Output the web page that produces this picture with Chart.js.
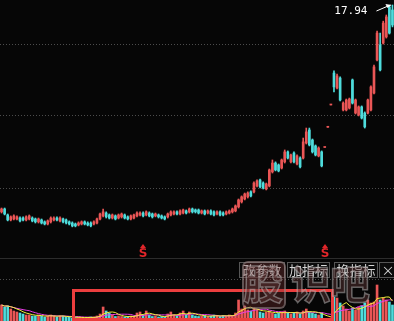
<!DOCTYPE html>
<html>
<head>
<meta charset="utf-8">
<script src="https://cdn.jsdelivr.net/npm/chart.js@4.4.1/dist/chart.umd.min.js"></script>
<style>
html, body { margin: 0; padding: 0; background: #060606; width: 394px; height: 321px; overflow: hidden; }
#wrap { position: relative; width: 394px; height: 321px; }
canvas { position: absolute; left: 0; }
#priceChart { top: 0; }
#volChart { top: 279px; }
.sep { position: absolute; left: 0; top: 258px; width: 394px; height: 1px; background: #2c2c2c; }
.btn { position: absolute; top: 262px; height: 14px; box-sizing: content-box; border: 1px solid #565656; background: #0b0b0b;
       color: #d6d6d6; font: 13px "Noto Sans CJK SC", sans-serif; line-height: 14px; text-align: center; }
.box { position: absolute; left: 72px; top: 289px; width: 262px; height: 32px; box-sizing: border-box; border: 3px solid #ec3e3e; }
.wm { position: absolute; font: bold 40px "Noto Sans CJK SC", sans-serif; line-height: 40px;
      color: rgba(95, 55, 55, 0.45); -webkit-text-stroke: 1.5px rgba(185, 185, 185, 0.5); pointer-events: none; }
.wmbox { position: absolute; left: 242px; top: 261px; width: 40px; height: 44px; border: 2px solid rgba(160, 160, 160, 0.45);
         border-radius: 6px; background: rgba(120, 50, 50, 0.35); }
</style>
</head>
<body>
<div id="wrap">
  <canvas id="priceChart" width="394" height="258"></canvas>
  <div class="sep"></div>
  <canvas id="volChart" width="394" height="42"></canvas>
  <div class="box"></div>
  <div class="btn" style="left:239px;width:44px;">改参数</div>
  <div class="btn" style="left:287px;width:41px;">加指标</div>
  <div class="btn" style="left:334px;width:42px;">换指标</div>
  <div class="btn" style="left:379px;width:16px;">×</div>
  <div class="wmbox"></div>
  <div class="wm" style="left:243px;top:262px;">股</div>
  <div class="wm" style="left:291px;top:262px;">识</div>
  <div class="wm" style="left:330px;top:262px;">吧</div>
</div>
<script>
// daily OHLC
const opens = [7.18,7.33,7.02,6.76,6.81,6.81,6.86,6.86,6.76,6.81,
  6.86,6.81,6.66,6.76,6.66,6.55,6.66,6.76,6.86,6.71,
  6.81,6.76,6.66,6.60,6.55,6.50,6.55,6.66,6.60,6.60,
  6.55,6.60,6.81,6.97,7.12,7.02,6.86,6.97,6.86,6.92,
  7.02,6.92,6.81,6.86,6.97,7.02,7.12,7.02,7.12,7.07,
  6.97,7.02,6.97,6.92,6.92,7.02,7.07,7.18,7.07,7.12,
  7.23,7.18,7.33,7.28,7.28,7.12,7.23,7.12,7.23,7.18,
  7.07,7.18,7.12,7.07,7.12,7.18,7.23,7.44,7.70,7.85,
  7.96,8.22,8.22,8.53,8.84,8.68,8.37,8.53,9.26,9.72,
  9.62,9.46,9.78,10.30,9.78,10.24,9.67,9.98,9.98,10.76,
  11.44,10.92,10.61,10.09,10.30,10.53,11.58,12.74,14.40,13.62,
  14.14,12.48,12.48,12.58,14.04,12.32,12.22,12.64,12.32,12.32,
  12.48,13.36,15.08,15.86,15.96,16.28,17.84,17.68];
const closes = [7.33,7.07,6.76,6.92,6.97,6.92,6.71,6.76,6.92,6.97,
  6.71,6.66,6.81,6.60,6.55,6.71,6.86,6.86,6.76,6.86,
  6.66,6.60,6.55,6.45,6.45,6.60,6.66,6.55,6.50,6.45,
  6.66,6.81,7.07,7.18,6.92,6.86,7.02,6.81,7.02,7.07,
  6.86,6.81,6.97,7.02,7.12,7.12,6.97,7.18,6.97,6.92,
  7.07,6.92,6.86,6.81,7.07,7.18,7.18,7.07,7.23,7.28,
  7.12,7.33,7.18,7.18,7.12,7.23,7.07,7.23,7.07,7.02,
  7.18,7.02,7.02,7.18,7.23,7.33,7.49,7.80,7.96,8.11,
  8.16,8.01,8.68,8.79,8.48,8.42,8.63,9.36,9.72,9.36,
  9.31,9.88,10.30,9.98,10.14,9.78,10.09,9.52,10.82,11.34,
  10.66,10.30,10.14,10.50,9.57,10.53,11.58,12.74,13.68,14.25,
  13.00,12.84,13.00,13.05,12.84,13.00,12.64,12.06,11.60,13.00,
  13.68,14.72,16.48,14.56,17.00,17.32,16.48,16.90];
const highs = [7.38,7.38,7.07,6.97,7.02,6.97,6.92,6.92,6.97,7.02,
  6.92,6.86,6.86,6.81,6.71,6.76,6.92,6.92,6.92,6.92,
  6.86,6.81,6.71,6.66,6.60,6.66,6.71,6.71,6.66,6.66,
  6.71,6.86,7.12,7.33,7.18,7.07,7.07,7.02,7.07,7.12,
  7.07,6.97,7.02,7.07,7.18,7.18,7.18,7.23,7.18,7.12,
  7.12,7.07,7.02,6.97,7.12,7.23,7.23,7.23,7.28,7.33,
  7.28,7.38,7.38,7.33,7.33,7.28,7.28,7.28,7.28,7.23,
  7.23,7.23,7.18,7.23,7.28,7.38,7.54,7.85,8.01,8.16,
  8.22,8.27,8.74,8.84,8.89,8.74,8.68,9.41,9.88,9.78,
  9.67,9.93,10.40,10.35,10.19,10.30,10.14,10.04,11.02,11.54,
  11.54,10.97,10.66,10.56,10.35,10.53,11.58,12.74,14.51,14.35,
  14.20,12.90,13.05,13.10,14.09,13.05,12.69,12.69,12.38,13.05,
  13.73,14.82,16.58,16.48,17.10,17.42,17.89,17.94];
const lows = [7.12,7.02,6.71,6.71,6.76,6.76,6.66,6.71,6.71,6.76,
  6.66,6.60,6.60,6.55,6.50,6.50,6.60,6.71,6.71,6.66,
  6.60,6.55,6.50,6.40,6.40,6.45,6.50,6.50,6.45,6.40,
  6.50,6.55,6.76,6.92,6.86,6.81,6.81,6.76,6.81,6.86,
  6.81,6.76,6.76,6.81,6.92,6.97,6.92,6.97,6.92,6.86,
  6.92,6.86,6.81,6.76,6.86,6.97,7.02,7.02,7.02,7.07,
  7.07,7.12,7.12,7.12,7.07,7.07,7.02,7.07,7.02,6.97,
  7.02,6.97,6.97,7.02,7.07,7.12,7.18,7.38,7.64,7.80,
  7.90,7.96,8.16,8.48,8.42,8.37,8.32,8.48,9.20,9.31,
  9.26,9.41,9.72,9.93,9.72,9.72,9.62,9.46,9.93,10.71,
  10.61,10.24,10.09,10.04,9.52,10.53,11.58,12.74,13.42,13.57,
  12.95,12.43,12.43,12.53,12.79,12.27,12.17,12.01,11.54,12.27,
  12.43,13.31,15.03,14.51,15.91,16.22,16.43,16.80];
// volume, same days
const volumes = [32,28,30,24,20,18,16,14,12,12,
  10,10,12,10,8,10,12,10,8,10,
  10,8,8,6,7,8,7,6,7,8,
  8,10,14,28,20,16,12,9,10,9,
  8,9,10,9,16,18,12,20,12,9,
  10,8,9,8,14,18,12,10,16,20,
  12,18,12,10,9,10,11,9,10,12,
  10,9,11,10,12,11,16,42,24,30,
  22,20,26,22,18,16,18,20,16,14,
  16,18,20,16,14,16,18,14,20,24,
  18,16,14,12,16,4,4,6,48,46,
  36,30,24,20,26,22,28,30,36,42,
  36,38,72,42,46,42,38,32];
const gridPrices = [15.91, 12.17, 8.42];
const signalIdx = [46, 105];

const UP = '#ea5656';
const DOWN = '#4edcdc';
const labels = opens.map((v, i) => i + 1);
const colors = closes.map((c, i) => c >= opens[i] ? UP : DOWN);

// volume moving averages (5 and 10 day)
function movingAvg(arr, n) {
  return arr.map((v, i) => {
    const part = arr.slice(Math.max(0, i - n + 1), i + 1);
    return part.reduce((s, x) => s + x, 0) / part.length;
  });
}

const marks = {
  id: 'marks',
  afterDatasetsDraw(chart) {
    const ctx = chart.ctx;
    const x = chart.scales.x, y = chart.scales.y;
    ctx.save();
    // sell/buy signals under the candles
    ctx.fillStyle = '#e2262a';
    ctx.font = 'bold 12px "DejaVu Sans"';
    ctx.textAlign = 'center';
    signalIdx.forEach(i => {
      const px = Math.round(x.getPixelForValue(i));
      ctx.fillText('S', px, 257);
      ctx.beginPath();
      ctx.moveTo(px, 244);
      ctx.lineTo(px + 3, 248);
      ctx.lineTo(px - 3, 248);
      ctx.closePath();
      ctx.fill();
    });
    // highest price label with arrow
    const top = Math.max(...highs);
    const mi = highs.indexOf(top);
    const hx = x.getPixelForValue(mi), hy = y.getPixelForValue(top);
    ctx.strokeStyle = '#ffffff';
    ctx.fillStyle = '#ffffff';
    ctx.lineWidth = 1;
    ctx.beginPath();
    ctx.moveTo(hx - 16, hy + 6);
    ctx.lineTo(hx - 2, hy);
    ctx.stroke();
    ctx.beginPath();
    ctx.moveTo(hx - 1, hy);
    ctx.lineTo(hx - 7, hy - 1);
    ctx.lineTo(hx - 5, hy + 3);
    ctx.closePath();
    ctx.fill();
    ctx.font = '11px "DejaVu Sans Mono"';
    ctx.textAlign = 'right';
    ctx.fillText(top.toFixed(2), hx - 25, hy + 9);
    ctx.restore();
  }
};

new Chart(document.getElementById('priceChart'), {
  type: 'bar',
  data: {
    labels: labels,
    datasets: [{
      data: opens.map((o, i) => [Math.min(o, closes[i]), Math.max(o, closes[i])]),
      backgroundColor: colors,
      barThickness: 2,
      minBarLength: 1,
      grouped: false
    }, {
      data: lows.map((l, i) => [l, highs[i]]),
      backgroundColor: colors,
      barThickness: 1,
      grouped: false
    }]
  },
  options: {
    responsive: false,
    animation: false,
    layout: { padding: 0 },
    plugins: { legend: { display: false }, tooltip: { enabled: false } },
    scales: {
      x: { display: false, offset: true },
      y: {
        min: 4.78, max: 18.2,
        border: { display: false, dash: [1, 2] },
        ticks: { display: false },
        grid: { color: '#4c4c4c', drawTicks: false, tickLength: 0 },
        afterBuildTicks: s => { s.ticks = gridPrices.map(v => ({ value: v })); }
      }
    }
  },
  plugins: [marks]
});

new Chart(document.getElementById('volChart'), {
  type: 'bar',
  data: {
    labels: labels,
    datasets: [{
      type: 'line',
      data: movingAvg(volumes, 5),
      borderColor: '#f2f23c',
      borderWidth: 1,
      pointRadius: 0
    }, {
      type: 'line',
      data: movingAvg(volumes, 10),
      borderColor: '#e83ce8',
      borderWidth: 1,
      pointRadius: 0
    }, {
      data: volumes,
      backgroundColor: colors,
      barThickness: 2
    }]
  },
  options: {
    responsive: false,
    animation: false,
    layout: { padding: 0 },
    plugins: { legend: { display: false }, tooltip: { enabled: false } },
    scales: {
      x: { display: false, offset: true },
      y: {
        min: 0, max: 84,
        border: { display: false, dash: [1, 2] },
        ticks: { display: false },
        grid: { color: '#4c4c4c', drawTicks: false, tickLength: 0 },
        afterBuildTicks: s => { s.ticks = [{ value: 83 }]; }
      }
    }
  }
});
</script>
</body>
</html>
